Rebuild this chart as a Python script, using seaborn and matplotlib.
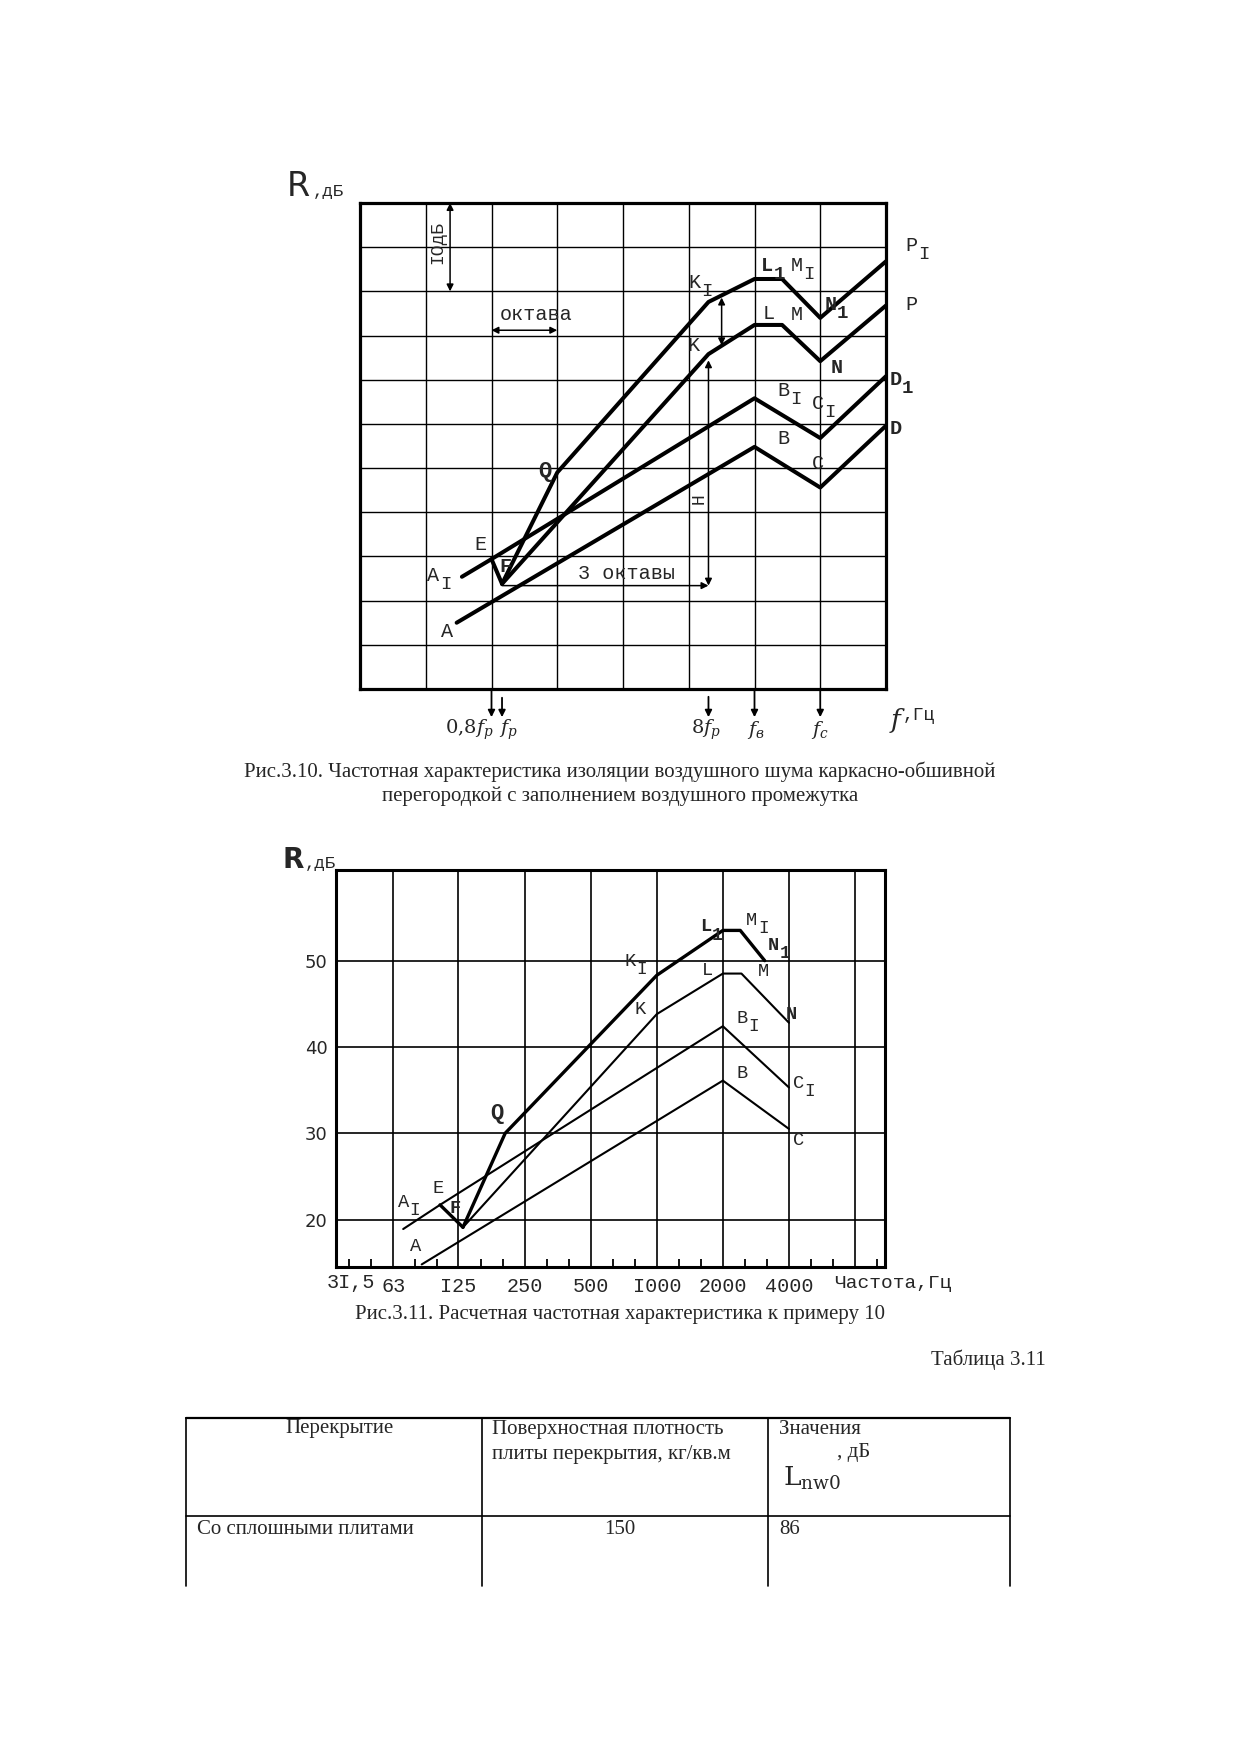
import matplotlib
matplotlib.use('Agg')
import matplotlib.pyplot as plt
import seaborn as sns

# ---------- Рис.3.10: schematic, x = octaves from left frame edge, R in dB (5 dB per row) ----------
top_x_A = [1.47, 6.0, 7.0, 8.0]                       # A - B - C - D
top_R_A = [7.5, 27.4, 22.8, 29.8]
top_x_A1 = [1.55, 2.0, 6.0, 7.0, 8.0]                 # A1 - E - B1 - C1 - D1
top_R_A1 = [12.7, 14.7, 32.9, 28.4, 35.4]
top_x_EF = [2.0, 2.16]                                # E - F
top_R_EF = [14.7, 11.9]
top_x_K = [2.16, 5.3, 6.0, 6.42, 7.0, 8.0]            # F - K - L - M - N - P
top_R_K = [11.9, 37.9, 41.2, 41.2, 37.1, 43.4]
top_x_K1 = [2.16, 3.0, 5.3, 6.0, 6.42, 7.0, 8.0]      # F - Q - K1 - L1 - M1 - N1 - P1
top_R_K1 = [11.9, 24.5, 43.8, 46.4, 46.4, 42.0, 48.4]
top_marks = [2.0, 2.16, 5.3, 6.0, 7.0]
top_mark_labels = ['$0{,}8f_{р}$', '$f_{р}$', '$8f_{р}$', '$f_{в}$', '$f_{с}$']

# ---------- Рис.3.11: example 10 ----------
freq_ticks = [63, 125, 250, 500, 1000, 2000, 4000, 8000]
freq_labels = ['63', 'I25', '250', '500', 'I000', '2000', '4000', '']
db_ticks = [20, 30, 40, 50]
bot_f_A = [85, 2000, 4000]                            # A - B - C
bot_R_A = [14.8, 36.1, 30.5]
bot_f_A1 = [70, 103, 2000, 4000]                      # A1 - E - B1 - C1
bot_R_A1 = [18.9, 21.7, 42.4, 35.3]
bot_f_EF = [103, 131]                                 # E - F
bot_R_EF = [21.7, 19.1]
bot_f_K = [131, 1000, 2000, 2430, 4000]               # F - K - L - M - N
bot_R_K = [19.1, 43.8, 48.5, 48.5, 42.8]
bot_f_K1 = [131, 204, 1000, 2000, 2400, 3100]         # F - Q - K1 - L1 - M1 - N1
bot_R_K1 = [19.1, 30.0, 48.3, 53.5, 53.5, 50.0]

# ---------- Таблица 3.11 ----------
table_cols = ['Перекрытие', 'Поверхностная плотность\nплиты перекрытия, кг/кв.м', 'Значения']
table_row = ['Со сплошными плитами', '150', '86']

sns.set_style('white')
plt.rcParams['font.family'] = ['DejaVu Sans']
plt.rcParams['mathtext.fontset'] = 'dejavuserif'
MONO = 'Liberation Mono'
SERIF = 'Liberation Serif'
FS = 15  # body text size

W, H = 1240, 1755
fig = plt.figure(figsize=(W / 100, H / 100), dpi=100)

# page layer in pixel coordinates (captions, table)
page = fig.add_axes([0, 0, 1, 1])
page.set_xlim(0, W)
page.set_ylim(H, 0)
page.axis('off')


def box(x0, y0, x1, y1):
    return [x0 / W, 1 - y1 / H, (x1 - x0) / W, (y1 - y0) / H]


def tag(ax, x, y, s, sub='', size=14.5, bold=False, rot=0, fam=MONO):
    w = 'bold' if bold else 'normal'
    ax.text(x, y, s, fontsize=size, family=fam, fontweight=w,
            ha='center', va='center', rotation=rot)
    if sub:
        ax.annotate(sub, (x, y), xytext=(size * 0.6, -size * 0.45),
                    textcoords='offset points', fontsize=size * 0.95,
                    family=fam, fontweight=w, ha='center', va='center',
                    annotation_clip=False)


# ================= top chart =================
ax1 = fig.add_axes(box(360, 203, 886, 689))
ax1.set_xlim(0, 8)
ax1.set_ylim(0, 55)
ax1.set_xticks(range(9))
ax1.set_yticks(range(0, 56, 5))
ax1.grid(True, color='black', lw=1.0)
ax1.tick_params(length=0, labelbottom=False, labelleft=False)
for sp in ax1.spines.values():
    sp.set_color('black')
    sp.set_linewidth(2.3)

for xs, ys in [(top_x_A, top_R_A), (top_x_A1, top_R_A1), (top_x_EF, top_R_EF),
               (top_x_K, top_R_K), (top_x_K1, top_R_K1)]:
    sns.lineplot(x=xs, y=ys, sort=False, estimator=None, color='black',
                 lw=2.9, ax=ax1, legend=False)

arr2 = dict(arrowstyle='<|-|>', color='black', lw=1.1, mutation_scale=10, shrinkA=0, shrinkB=0)
arr1 = dict(arrowstyle='-|>', color='black', lw=1.1, mutation_scale=10, shrinkA=0, shrinkB=0)
ax1.annotate('', xy=(1.37, 45), xytext=(1.37, 55), arrowprops=arr2)
ax1.text(1.18, 50.5, 'IOдБ', family=MONO, fontsize=13, rotation=90, ha='center', va='center')
ax1.annotate('', xy=(2.0, 40.6), xytext=(3.0, 40.6), arrowprops=arr2)
ax1.text(2.68, 42.4, 'октава', family=MONO, fontsize=14.5, ha='center', va='center')
ax1.annotate('', xy=(5.3, 11.7), xytext=(2.16, 11.7), arrowprops=arr1)
ax1.text(4.05, 13.1, '3 октавы', family=MONO, fontsize=14.5, ha='center', va='center')
ax1.annotate('', xy=(5.3, 11.7), xytext=(5.3, 37.2), arrowprops=arr2)
ax1.annotate('', xy=(5.5, 38.9), xytext=(5.5, 44.3), arrowprops=arr2)
tag(ax1, 5.16, 21.6, 'H', rot=90, size=13)

top_tags = [(1.115, 12.8, 'A', 'I', False), (1.32, 6.5, 'A', '', False),
            (1.835, 16.3, 'E', '', False), (2.21, 13.9, 'F', '', True),
            (2.81, 24.6, 'Q', '', True), (5.09, 46.0, 'K', 'I', False),
            (5.07, 38.9, 'K', '', False), (6.19, 47.9, 'L', '1', True),
            (6.64, 47.9, 'M', 'I', False), (7.16, 43.5, 'N', '1', True),
            (6.21, 42.5, 'L', '', False), (6.64, 42.4, 'M', '', False),
            (7.25, 36.4, 'N', '', True), (6.44, 33.8, 'B', 'I', False),
            (6.97, 32.3, 'C', 'I', False), (6.44, 28.4, 'B', '', False),
            (6.97, 25.5, 'C', '', False), (8.15, 35.0, 'D', '1', True),
            (8.15, 29.5, 'D', '', True), (8.39, 50.2, 'P', 'I', False),
            (8.39, 43.5, 'P', '', False)]
for x, y, s, sub, b in top_tags:
    tag(ax1, x, y, s, sub, bold=b, size=16 if s == 'Q' else 14.5)

# frequency markers below the frame
mark_top = [0.0, -0.018, -0.016, 0.0, 0.0]
mark_ha = ['right', 'left', 'center', 'center', 'center']
mark_dx = [0.04, -0.04, -0.03, 0.02, 0.0]
for x, lbl, y0, ha, dx in zip(top_marks, top_mark_labels, mark_top, mark_ha, mark_dx):
    ax1.annotate('', xy=(x, -0.058), xytext=(x, y0), xycoords=('data', 'axes fraction'),
                 arrowprops=dict(arrowstyle='-|>', color='black', lw=1.3,
                                 mutation_scale=10, shrinkA=0, shrinkB=0))
    ax1.annotate(lbl, (x + dx, -0.085), xycoords=('data', 'axes fraction'),
                 fontsize=14, ha=ha, va='center', annotation_clip=False)
ax1.annotate('$f$', (8.18, -0.065), xycoords=('data', 'axes fraction'),
             fontsize=19, ha='center', va='center', annotation_clip=False)
ax1.annotate(',Гц', (8.26, -0.055), xycoords=('data', 'axes fraction'),
             fontsize=13, family=MONO, ha='left', va='center', annotation_clip=False)

page.text(298, 186, 'R', fontsize=24, family='DejaVu Sans', ha='center', va='center')
page.text(313, 191, ',дБ', fontsize=12.5, family=MONO, ha='left', va='center')

page.text(620, 772, 'Рис.3.10. Частотная характеристика изоляции воздушного шума каркасно-обшивной',
          family=SERIF, fontsize=FS, ha='center', va='center')
page.text(620, 796, 'перегородкой с заполнением воздушного промежутка',
          family=SERIF, fontsize=FS, ha='center', va='center')

# ================= bottom chart =================
ax2 = fig.add_axes(box(336, 870, 885, 1267))
for xs, ys, lw in [(bot_f_A, bot_R_A, 1.5), (bot_f_A1, bot_R_A1, 1.5),
                   (bot_f_EF, bot_R_EF, 2.4), (bot_f_K, bot_R_K, 1.5),
                   (bot_f_K1, bot_R_K1, 2.4)]:
    sns.lineplot(x=xs, y=ys, sort=False, estimator=None, color='black',
                 lw=lw, ax=ax2, legend=False)
ax2.set_xscale('log', base=2)
ax2.set_xlim(34.6, 10950)
ax2.set_ylim(14.5, 60.5)
ax2.set_xticks(freq_ticks)
ax2.set_xticklabels(freq_labels, family=MONO, fontsize=14.5)
minor = [f * k for f in [31.5] + freq_ticks for k in (2 ** (1 / 3), 2 ** (2 / 3))]
ax2.set_xticks([m for m in minor if 34.6 < m < 10950], minor=True)
ax2.xaxis.set_minor_formatter(matplotlib.ticker.NullFormatter())
ax2.set_yticks(db_ticks)
ax2.set_yticklabels([str(v) for v in db_ticks], fontsize=13)
ax2.grid(True, which='major', color='black', lw=1.2)
ax2.tick_params(axis='x', which='major', length=0, pad=7)
ax2.tick_params(axis='x', which='minor', bottom=True, direction='in', length=6, width=1.3, color='black')
ax2.tick_params(axis='y', length=0, pad=6)
ax2.set_xlabel('')
ax2.set_ylabel('')
for sp in ax2.spines.values():
    sp.set_color('black')
    sp.set_linewidth(2.2)

bot_tags = [(70.2, 22.0, 'A', 'I', False), (79.4, 16.85, 'A', '', False),
            (100.5, 23.6, 'E', '', False), (121, 21.3, 'F', '', True),
            (187.5, 32.3, 'Q', '', True), (758, 49.9, 'K', 'I', False),
            (838, 44.3, 'K', '', False), (1680, 53.9, 'L', '1', True),
            (2710, 54.7, 'M', 'I', False), (3400, 51.8, 'N', '1', True),
            (1700, 48.8, 'L', '', False), (3060, 48.7, 'M', '', False),
            (4120, 43.7, 'N', '', True), (2440, 43.3, 'B', 'I', False),
            (4420, 35.8, 'C', 'I', False), (2440, 36.9, 'B', '', False),
            (4420, 29.2, 'C', '', False)]
for x, y, s, sub, b in bot_tags:
    tag(ax2, x, y, s, sub, bold=b, size=16 if s == 'Q' else 13.5)

page.text(351, 1283, '3I,5', family=MONO, fontsize=14.5, ha='center', va='center')
page.text(834, 1283, 'Частота,Гц', family=MONO, fontsize=14, ha='left', va='center')
page.text(293, 860, 'R', fontsize=20, fontweight='bold', family='DejaVu Sans', ha='center', va='center')
page.text(305, 863, ',дБ', fontsize=12.5, family=MONO, ha='left', va='center')

page.text(620, 1315, 'Рис.3.11. Расчетная частотная характеристика к примеру 10',
          family=SERIF, fontsize=FS, ha='center', va='center')
page.text(1046, 1360, 'Таблица 3.11', family=SERIF, fontsize=FS, ha='right', va='center')

# ================= table =================
tx = [186, 482, 768, 1009.5]
page.plot([tx[0], tx[-1]], [1418, 1418], color='black', lw=1.6)
page.plot([tx[0], tx[-1]], [1516, 1516], color='black', lw=1.2)
for x in tx:
    page.plot([x, x], [1418, 1586], color='black', lw=1.2)
page.text(339, 1429, table_cols[0], family=SERIF, fontsize=FS, ha='center', va='center')
page.text(492, 1420, table_cols[1], family=SERIF, fontsize=FS, ha='left', va='top',
          linespacing=1.4)
page.text(779, 1429, table_cols[2], family=SERIF, fontsize=FS, ha='left', va='center')
page.text(837, 1452, ', дБ', family=SERIF, fontsize=FS, ha='left', va='center')
page.text(783, 1478, r'$\mathrm{L}_{\mathrm{nw0}}$', fontsize=19, ha='left', va='center')
page.text(197, 1530, table_row[0], family=SERIF, fontsize=FS, ha='left', va='center')
page.text(620, 1530, table_row[1], family=SERIF, fontsize=FS, ha='center', va='center')
page.text(779, 1530, table_row[2], family=SERIF, fontsize=FS, ha='left', va='center')

fig.savefig('out.png', dpi=100)
